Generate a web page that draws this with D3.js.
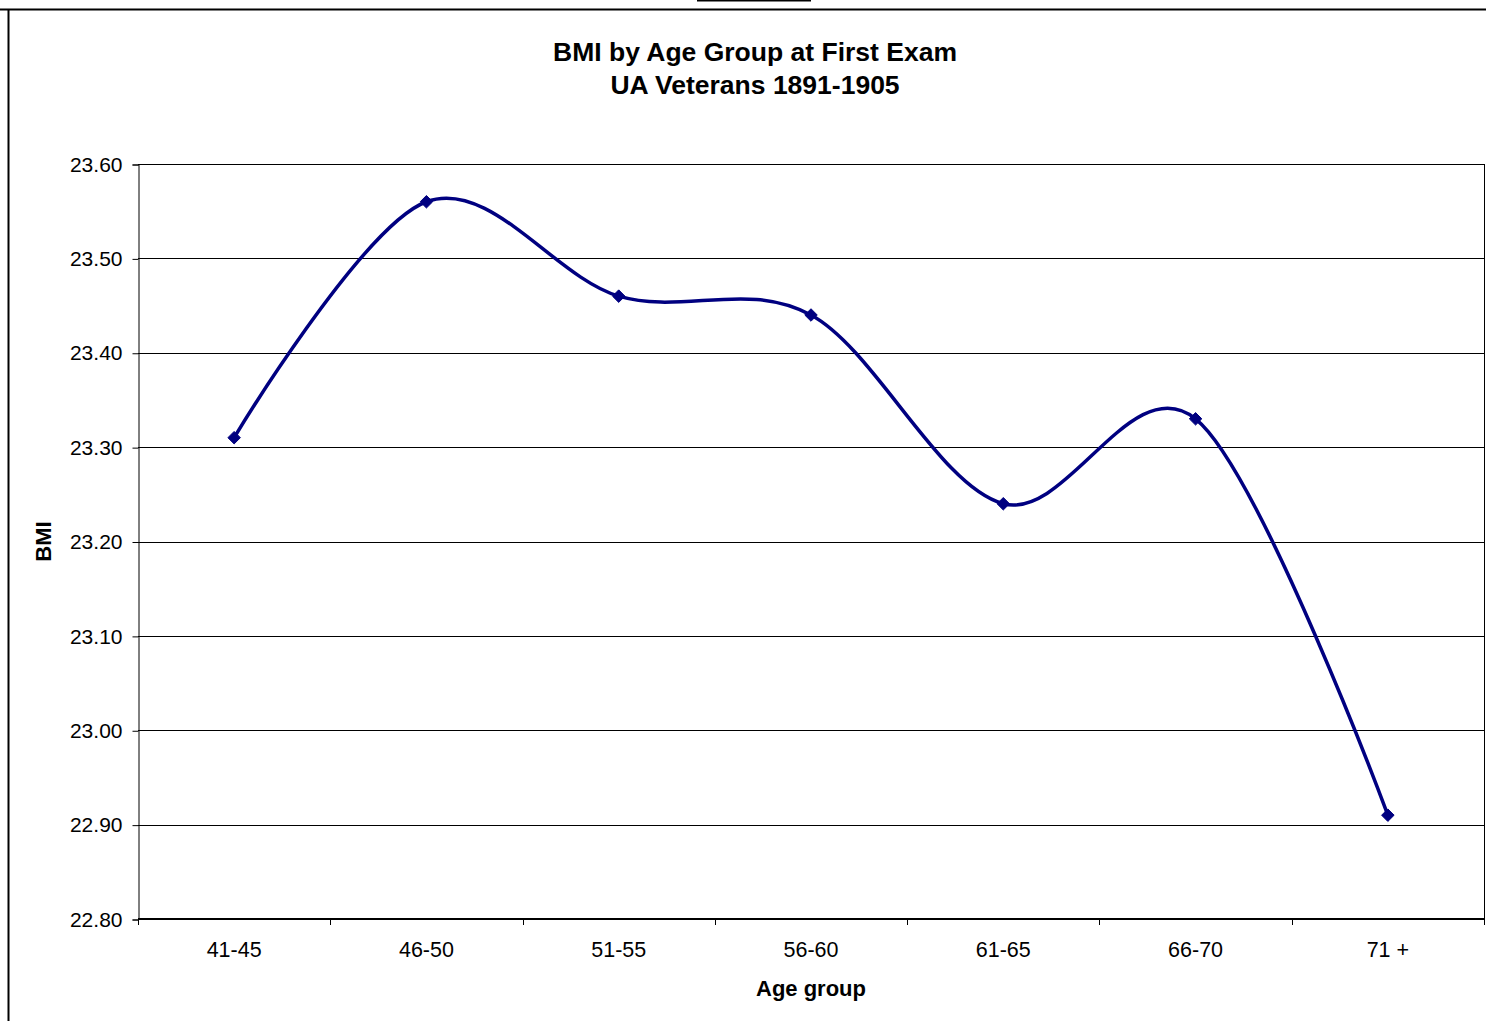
<!DOCTYPE html>
<html><head><meta charset="utf-8">
<script src="https://cdn.jsdelivr.net/npm/d3@7"></script>
<style>html,body{margin:0;padding:0;background:#fff;}svg{display:block;font-family:"Liberation Sans",Arial,sans-serif;}</style>
</head><body>
<svg id="c" width="1486" height="1021"></svg>
<script>
const categories = ["41-45","46-50","51-55","56-60","61-65","66-70","71 +"];
const bmiValues = [23.31, 23.56, 23.46, 23.44, 23.24, 23.33, 22.91];
const yTicks = [22.8, 22.9, 23.0, 23.1, 23.2, 23.3, 23.4, 23.5, 23.6];
const titleLines = ["BMI by Age Group at First Exam", "UA Veterans 1891-1905"];
const xTitle = "Age group", yTitle = "BMI";

const svg = d3.select("#c");
const L = 138, R = 1484, T = 164, B = 919;
const color = "#000080";

// outer chart border
svg.append("line").attr("x1",0).attr("x2",1486).attr("y1",9.5).attr("y2",9.5).attr("stroke","#000").attr("stroke-width",2);
svg.append("line").attr("x1",8.5).attr("x2",8.5).attr("y1",9).attr("y2",1021).attr("stroke","#000").attr("stroke-width",2);
svg.append("line").attr("x1",697).attr("x2",811).attr("y1",0.5).attr("y2",0.5).attr("stroke","#000").attr("stroke-width",2);

const x = d3.scaleBand().domain(categories).range([L, R]).padding(0);
const y = d3.scaleLinear().domain([22.8, 23.6]).range([B, T]);

// gridlines
svg.append("g").selectAll("line").data(yTicks.slice(1)).join("line")
  .attr("x1", L).attr("x2", R)
  .attr("y1", d => Math.round(y(d)) + 0.5).attr("y2", d => Math.round(y(d)) + 0.5)
  .attr("stroke", "#000").attr("stroke-width", 1);

// right border of plot
svg.append("line").attr("x1",R+0.5).attr("x2",R+0.5).attr("y1",T).attr("y2",B+6).attr("stroke","#000").attr("stroke-width",1);

// y axis
const yAxis = d3.axisLeft(y).tickValues(yTicks).tickFormat(d3.format(".2f")).tickSize(6).tickPadding(10);
const gy = svg.append("g").attr("transform", `translate(${L+0.5},0.5)`).call(yAxis);
gy.select(".domain").attr("stroke","#000");
gy.selectAll("text").attr("font-size", 21).attr("fill","#000").attr("font-family","Liberation Sans, Arial, sans-serif");

// x axis
const xAxis = d3.axisBottom(x).tickSize(0).tickPadding(23);
const gx = svg.append("g").attr("transform", `translate(0,${B})`).call(xAxis);
gx.select(".domain").remove();
gx.selectAll("text").attr("font-size", 21.5).attr("fill","#000").attr("font-family","Liberation Sans, Arial, sans-serif");
svg.append("line").attr("x1",L).attr("x2",R+1).attr("y1",B).attr("y2",B).attr("stroke","#000").attr("stroke-width",2);
// category boundary ticks
const bounds = categories.map(c => x(c)).concat([R]);
svg.append("g").selectAll("line").data(bounds).join("line")
  .attr("x1", d => Math.round(d)+0.5).attr("x2", d => Math.round(d)+0.5)
  .attr("y1", B).attr("y2", B+6).attr("stroke","#000");

// line
const pts = categories.map((c,i) => [x(c) + x.bandwidth()/2, y(bmiValues[i])]);
svg.append("path").datum(pts)
  .attr("d", d3.line().curve(d3.curveCardinal.tension(0)))
  .attr("fill","none").attr("stroke",color).attr("stroke-width",3.5);

// markers
svg.append("g").selectAll("path").data(pts).join("path")
  .attr("transform", d => `translate(${d[0]},${d[1]})`)
  .attr("d", d3.symbol().type(d3.symbolDiamond2).size(100))
  .attr("fill", color).attr("stroke", color).attr("stroke-width", 1);

// titles
svg.append("text").attr("x", 755).attr("y", 61).attr("text-anchor","middle")
  .attr("font-size", 26.5).attr("font-weight","bold").text(titleLines[0]);
svg.append("text").attr("x", 755).attr("y", 94).attr("text-anchor","middle")
  .attr("font-size", 26.5).attr("font-weight","bold").text(titleLines[1]);
svg.append("text").attr("x", (L+R)/2).attr("y", 996).attr("text-anchor","middle")
  .attr("font-size", 22).attr("font-weight","bold").text(xTitle);
svg.append("text").attr("transform", `translate(51,${(T+B)/2}) rotate(-90)`).attr("text-anchor","middle")
  .attr("font-size", 22).attr("font-weight","bold").text(yTitle);
</script>
</body></html>
